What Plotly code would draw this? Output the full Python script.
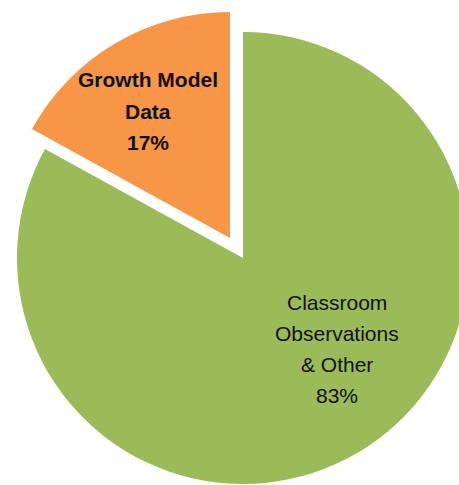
import plotly.graph_objects as go

# ---- data ----
labels = ["Classroom Observations & Other", "Growth Model Data"]
label_lines = [["Classroom", "Observations", "& Other"], ["Growth Model", "Data"]]
values = [83, 17]
colors = ["#9BBB59", "#F79646"]

# the figure is a little wider than the window so the big slice is cut at the right
W, H = 470, 485
TRANSPARENT = "rgba(0,0,0,0)"


def px_domain(cx, cy, r):
    return dict(x=[max(0, (cx - r) / W), min(1, (cx + r) / W)],
                y=[max(0, (H - (cy + r)) / H), min(1, (H - (cy - r)) / H)])


fig = go.Figure()

# main (green) slice
fig.add_trace(go.Pie(
    labels=labels, values=values, sort=False, direction="clockwise", rotation=0,
    marker=dict(colors=[colors[0], TRANSPARENT], line=dict(width=0)),
    textinfo="none", hoverinfo="label+percent", showlegend=False,
    domain=px_domain(243, 258, 226),
))
# exploded (orange) slice
fig.add_trace(go.Pie(
    labels=labels, values=values, sort=False, direction="clockwise", rotation=0,
    marker=dict(colors=[TRANSPARENT, colors[1]], line=dict(width=0)),
    textinfo="none", hoverinfo="label+percent", showlegend=False,
    domain=px_domain(230, 238, 226),
))

total = sum(values)
font_family = "Arial, 'Liberation Sans', sans-serif"
blocks = [
    dict(cx=337, top=302, spacing=31, bold=False),
    dict(cx=148, top=80, spacing=31.5, bold=True),
]
for i, b in enumerate(blocks):
    lines = label_lines[i] + [f"{round(values[i] / total * 100)}%"]
    for j, line in enumerate(lines):
        txt = f"<b>{line}</b>" if b["bold"] else line
        fig.add_annotation(
            x=b["cx"] / W, y=(H - (b["top"] + j * b["spacing"])) / H,
            xref="paper", yref="paper", xanchor="center", yanchor="middle",
            text=txt, showarrow=False,
            font=dict(family=font_family, size=21, color="#111111"),
        )

fig.update_layout(
    width=W, height=H,
    margin=dict(l=0, r=0, t=0, b=0),
    paper_bgcolor="white", plot_bgcolor="white",
    showlegend=False,
)

fig.write_html(
    "out.html",
    config={"displayModeBar": False},
    post_script=(
        "document.body.style.margin='0';"
        "document.body.style.overflow='hidden';"
        "document.documentElement.style.overflow='hidden';"
    ),
)
